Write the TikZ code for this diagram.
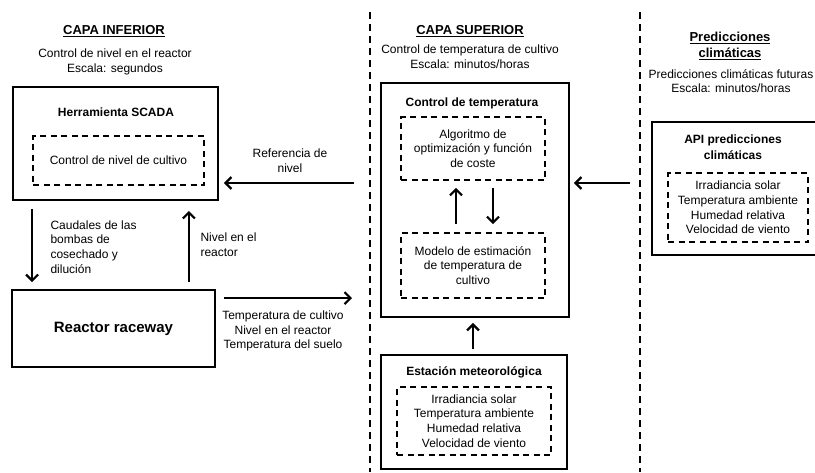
\documentclass[tikz,border=0pt]{standalone}
\usepackage{fontspec}
\setmainfont{Liberation Sans}
\usetikzlibrary{arrows.meta,calc}

\begin{document}
\begin{tikzpicture}[x=1pt, y=-1pt,
        caja/.style={draw, line width=1.8pt, inner sep=0pt, align=center},
        discont/.style={draw, line width=1.6pt, dash pattern=on 6pt off 4.5pt, inner sep=0pt},
        flecha/.style={line width=2.2pt, -{Straight Barb[length=6pt,width=12pt]}},
        texto/.style={font=\fontsize{12}{14.6}\selectfont, align=center},
        titulo/.style={font=\fontsize{12}{15.5}\selectfont\bfseries, align=center},
        capa/.style={font=\fontsize{13}{16}\selectfont\bfseries, align=center}]
    \useasboundingbox (0,0) rectangle (815,472);

    % Separadores entre capas
    \foreach \x in {370,640}
        \draw[line width=1.6pt, dash pattern=on 7pt off 5pt] (\x,12) -- (\x,472);

    % Capa inferior
    \node[capa] (capaInf) at (114,31) {\underline{CAPA INFERIOR}};
    \node[texto] (descInf) at (115,62) {Control de nivel en el reactor\\Escala: segundos};
    \node[caja, minimum width=205pt, minimum height=113pt] (scada) at (115.5,143.5) {};
    \node[titulo] (scadaTit) at (116,112) {Herramienta SCADA};
    \node[discont, texto, minimum width=171pt, minimum height=49pt] (ctrlNivel) at (118.5,160.5) {Control de nivel de cultivo};
    \node[caja, minimum width=203pt, minimum height=77pt, font=\fontsize{15}{18}\selectfont\bfseries] (reactor) at (113.5,328.5) {Reactor raceway};

    % Capa superior
    \node[capa] (capaSup) at (470,31) {\underline{CAPA SUPERIOR}};
    \node[texto] (descSup) at (470,56.5) {Control de temperatura de cultivo\\Escala: minutos/horas};
    \node[caja, minimum width=188pt, minimum height=234pt] (ctemp) at (475,200) {};
    \node[titulo] (ctempTit) at (472,103) {Control de temperatura};
    \node[discont, texto, minimum width=144pt, minimum height=63pt] (algo) at (473,148.5) {Algoritmo de\\optimización y función\\de coste};
    \node[discont, texto, minimum width=144pt, minimum height=65pt] (modelo) at (473,265.5) {Modelo de estimación\\de temperatura de\\cultivo};
    \node[caja, minimum width=186pt, minimum height=114pt] (estacion) at (474,412) {};
    \node[titulo] (estTit) at (474,372) {Estación meteorológica};
    \node[discont, texto, minimum width=154pt, minimum height=68pt] (estVar) at (474,421) {Irradiancia solar\\Temperatura ambiente\\Humedad relativa\\Velocidad de viento};

    % Predicciones climaticas
    \node[capa] (capaPred) at (730,46) {\underline{Predicciones}\\\underline{climáticas}};
    \node[texto] (descPred) at (731,81) {Predicciones climáticas futuras\\Escala: minutos/horas};
    \node[caja, minimum width=175pt, minimum height=133pt] (api) at (739.5,188.5) {};
    \node[titulo] (apiTit) at (733,147) {API predicciones\\climáticas};
    \node[discont, texto, minimum width=140pt, minimum height=69pt] (apiVar) at (738,207.5) {Irradiancia solar\\Temperatura ambiente\\Humedad relativa\\Velocidad de viento};

    % Flechas de la capa inferior
    \coordinate (refIni) at (354,183);
    \draw[flecha, shorten >=5pt] (refIni) -- (refIni -| scada.east);
    \node[texto] (refLab) at (290,161) {Referencia de\\nivel};
    \draw[flecha] ($(scada.south west)+(20,8)$) -- ($(reactor.north west)+(21,-7)$);
    \node[texto, align=left, anchor=west] (caudLab) at (47,247) {Caudales de las\\bombas de\\cosechado y\\dilución};
    \draw[flecha] ($(reactor.north east)+(-27,-7)$) -- ($(scada.south east)+(-30,10)$);
    \node[texto, align=left, anchor=west] (nivLab) at (197,245) {Nivel en el\\reactor};
    \draw[flecha] ($(reactor.north east)+(8,9)$) -- ($(reactor.north east -| ctemp.west)+(-28,9)$);
    \node[texto] (tempLab) at (283,331) {Temperatura de cultivo\\Nivel en el reactor\\Temperatura del suelo};

    % Flechas de la capa superior
    \draw[flecha] ($(modelo.north)+(-17,-8)$) -- ($(algo.south)+(-17,7)$);
    \draw[flecha] ($(algo.south)+(20,7)$) -- ($(modelo.north)+(20,-8)$);
    \draw[flecha] ($(estacion.north)+(-1,-5)$) -- ($(ctemp.south)+(-2,5)$);
    \coordinate (apiIni) at (630,183);
    \draw[flecha, shorten >=4pt] (apiIni) -- (apiIni -| ctemp.east);
\end{tikzpicture}
\end{document}
